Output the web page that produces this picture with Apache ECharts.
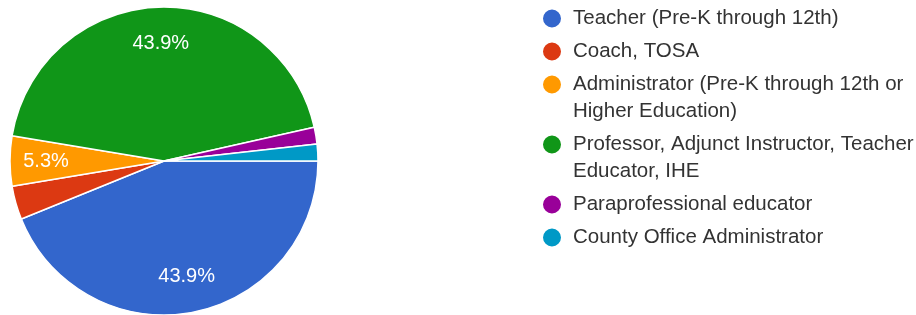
<!DOCTYPE html>
<html>
<head>
<meta charset="utf-8">
<script src="https://cdn.jsdelivr.net/npm/echarts@6/dist/echarts.min.js"></script>
<style>
  html, body { margin: 0; padding: 0; background: #fff; }
  #chart { width: 916px; height: 315px; }
</style>
</head>
<body>
<div id="chart"></div>
<script>
  // responses per role
  const categories = [
    'Teacher (Pre-K through 12th)',
    'Coach, TOSA',
    'Administrator (Pre-K through 12th or Higher Education)',
    'Professor, Adjunct Instructor, Teacher Educator, IHE',
    'Paraprofessional educator',
    'County Office Administrator',
  ];
  const counts = [25, 2, 3, 25, 1, 1];
  const legendLabels = [
    'Teacher (Pre-K through 12th)',
    'Coach, TOSA',
    'Administrator (Pre-K through 12th or\nHigher Education)',
    'Professor, Adjunct Instructor, Teacher\nEducator, IHE',
    'Paraprofessional educator',
    'County Office Administrator',
  ];
  const colors = ['#3366cc', '#dc3912', '#ff9900', '#109618', '#990099', '#0099c6'];

  const total = counts.reduce((a, b) => a + b, 0);
  const pieData = categories.map((name, i) => ({ name, value: counts[i] }));
  const fontFamily = 'Liberation Sans, Arial, sans-serif';
  const lineH = 27;

  const myChart = echarts.init(document.getElementById('chart'));

  // one legend per entry so wrapped entries keep the dot on their first line
  function buildLegends() {
    const legends = [];
    let center = 18.5;
    legendLabels.forEach((label, i) => {
      const lines = label.split('\n').length;
      // blank lines in front push the first text line onto the dot's centre
      const text = '\n'.repeat(lines - 1) + label;
      legends.push({
        orient: 'vertical',
        left: 541,
        top: center - 13.5 - lineH * (lines - 1),
        padding: 0,
        itemWidth: 32,
        itemHeight: 20,
        icon: 'circle',
        selectedMode: false,
        data: [categories[i]],
        formatter: () => text,
        textStyle: {
          fontFamily,
          fontSize: 20.5,
          lineHeight: lineH,
          color: '#333',
        },
      });
      center += 33 + lineH * (lines - 1);
    });
    return legends;
  }

  const options = {
    backgroundColor: '#fff',
    color: colors,
    legend: buildLegends(),
    series: [
      {
        type: 'pie',
        center: [164, 161],
        radius: 154,
        startAngle: 0,
        clockwise: true,
        silent: true,
        data: pieData,
        label: { show: false },
        labelLine: { show: false },
        itemStyle: {
          borderColor: '#fff',
          borderWidth: 1.5,
        },
      },
      {
        // only carries the percent labels, placed further out than the default
        type: 'pie',
        center: [164, 161],
        radius: [76, 154],
        startAngle: 0,
        clockwise: true,
        silent: true,
        data: pieData,
        itemStyle: { color: 'rgba(0,0,0,0)' },
        labelLine: { show: false },
        label: {
          show: true,
          position: 'inside',
          color: '#fff',
          fontFamily,
          fontSize: 20,
          formatter: (p) => {
            const pct = (p.value / total) * 100;
            return pct >= 5 ? pct.toFixed(1) + '%' : '';
          },
        },
      },
    ],
  };

  myChart.setOption(options);
</script>
</body>
</html>
